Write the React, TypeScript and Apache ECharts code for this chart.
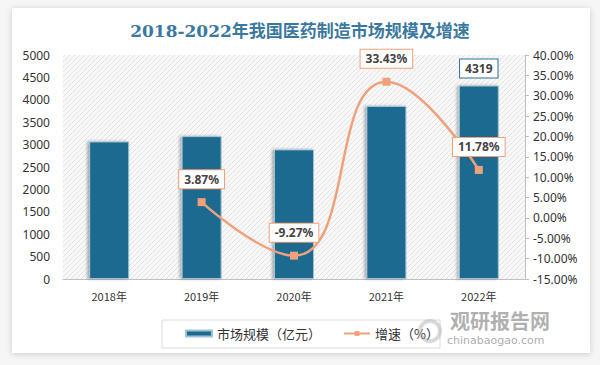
import React, { useEffect, useRef } from "react";
import * as echarts from "echarts";

const categories = ["2018年", "2019年", "2020年", "2021年", "2022年"];
const marketSize = [3070, 3189, 2893, 3861, 4319];
const growth: (number | null)[] = [null, 3.87, -9.27, 33.43, 11.78];
const labelledBarIndex = 4;
const titleText = "2018-2022年我国医药制造市场规模及增速";
const barName = "市场规模（亿元）";
const lineName = "增速（%）";

function makeHatch(): string | null {
  try {
    const c = document.createElement("canvas");
    c.width = 5;
    c.height = 5;
    const ctx = c.getContext("2d");
    if (!ctx) return null;
    ctx.fillStyle = "#f8f8f8";
    ctx.fillRect(0, 0, 5, 5);
    ctx.strokeStyle = "#e2e2e2";
    ctx.lineWidth = 1;
    ctx.beginPath();
    ctx.moveTo(0, 5);
    ctx.lineTo(5, 0);
    ctx.moveTo(-2.5, 2.5);
    ctx.lineTo(2.5, -2.5);
    ctx.moveTo(2.5, 7.5);
    ctx.lineTo(7.5, 2.5);
    ctx.stroke();
    return c.toDataURL();
  } catch (e) {
    return null;
  }
}

export default function App() {
  const ref = useRef<HTMLDivElement>(null);
  useEffect(() => {
    if (!ref.current) return;
    const chart = echarts.init(ref.current, undefined, { renderer: "svg" });
    const hatch = makeHatch();
    const barColor = "#1c6a8f";
    const lineColor = "#f0a07a";
    const barData = marketSize.map((v, i) =>
      i === labelledBarIndex
        ? {
            value: v,
            label: {
              show: true,
              position: "top",
              distance: 8,
              color: "#444",
              fontSize: 12,
              fontWeight: "bold",
              backgroundColor: "#fff",
              borderColor: "#2f6f93",
              borderWidth: 1,
              padding: [3, 5],
            },
          }
        : { value: v }
    );
    chart.setOption({
      animation: false,
      backgroundColor: "#f6f6f6",
      textStyle: { fontFamily: "'Noto Sans', 'Noto Sans CJK SC', sans-serif" },
      title: {
        text: titleText,
        left: "center",
        top: 17,
        textStyle: {
          color: "#3a78a0",
          fontSize: 17,
          fontWeight: "bold",
          fontFamily: "'DejaVu Serif', 'Noto Sans CJK SC', serif",
        },
      },
      graphic: [
        {
          type: "rect",
          z: -10,
          shape: { x: 12, y: 8, width: 578, height: 345 },
          style: { fill: "#ffffff", shadowBlur: 6, shadowColor: "rgba(0,0,0,0.18)", shadowOffsetX: 0, shadowOffsetY: 1 },
        },
        {
          type: "rect",
          z: 10,
          shape: { x: 162, y: 320, width: 278, height: 28 },
          style: { fill: "rgba(255,255,255,0)", stroke: "#dcdcdc", lineWidth: 1 },
        },
        {
          type: "ring",
          z: 11,
          shape: { cx: 430, cy: 331, r: 12, r0: 8 },
          style: { fill: "rgba(170,170,170,0.45)" },
        },
        {
          type: "text",
          z: 11,
          left: 450,
          top: 310,
          style: { text: "观研报告网", fill: "rgba(150,150,150,0.75)", fontSize: 20, fontWeight: "bold", fontFamily: "'Noto Sans CJK SC', sans-serif" },
        },
        {
          type: "text",
          z: 11,
          left: 447,
          top: 335,
          style: { text: "chinabaogao.com", fill: "rgba(150,150,150,0.8)", fontSize: 11, fontFamily: "'DejaVu Sans', sans-serif" },
        },
      ],
      legend: {
        bottom: 20,
        left: 180,
        itemGap: 22,
        itemWidth: 26,
        itemHeight: 6,
        textStyle: { fontSize: 13, color: "#333", fontFamily: "'Noto Sans CJK SC', sans-serif" },
        data: [
          { name: barName, icon: "rect" },
          { name: lineName },
        ],
      },
      grid: {
        left: 63,
        right: 75,
        top: 55,
        bottom: 86,
        show: true,
        borderWidth: 0,
        backgroundColor: hatch ? { image: hatch, repeat: "repeat" } : "#f2f2f2",
      },
      xAxis: {
        type: "category",
        data: categories,
        axisLine: { lineStyle: { color: "#bfbfbf" } },
        axisTick: { show: false },
        axisLabel: { color: "#333", fontSize: 11, margin: 11, fontFamily: "'Noto Sans CJK SC', sans-serif" },
      },
      yAxis: [
        {
          type: "value",
          min: 0,
          max: 5000,
          interval: 500,
          splitLine: { show: false },
          axisLine: { show: false },
          axisTick: { show: false },
          axisLabel: { color: "#333", fontSize: 12, margin: 13, formatter: (v: number) => String(v) },
        },
        {
          type: "value",
          min: -15,
          max: 40,
          interval: 5,
          splitLine: { show: false },
          axisLine: { show: true, lineStyle: { color: "#bfbfbf" } },
          axisTick: { show: true, length: 4, inside: false, lineStyle: { color: "#bfbfbf" } },
          axisLabel: { color: "#333", fontSize: 12, margin: 8, formatter: (v: number) => v.toFixed(2) + "%" },
        },
      ],
      series: [
        {
          name: barName,
          type: "bar",
          data: barData,
          barWidth: 40,
          itemStyle: { color: barColor, borderColor: "#9fc3d6", borderWidth: 1, shadowBlur: 3, shadowColor: "rgba(0,0,0,0.3)", shadowOffsetX: -2 },
        },
        {
          name: lineName,
          type: "line",
          yAxisIndex: 1,
          data: growth,
          smooth: 0.5,
          symbol: "rect",
          symbolSize: 8,
          lineStyle: { color: lineColor, width: 2.5 },
          itemStyle: { color: lineColor },
          label: {
            show: true,
            position: "top",
            distance: 10,
            formatter: (p: any) => Number(p.value).toFixed(2) + "%",
            color: "#444",
            fontSize: 12,
            fontWeight: "bold",
            backgroundColor: "#fff",
            borderColor: lineColor,
            borderWidth: 1,
            padding: [3, 5],
          },
        },
      ],
    });
    return () => chart.dispose();
  }, []);
  return (
    <div
      ref={ref}
      style={{ position: "fixed", left: 0, top: 0, width: 600, height: 365 }}
    />
  );
}
